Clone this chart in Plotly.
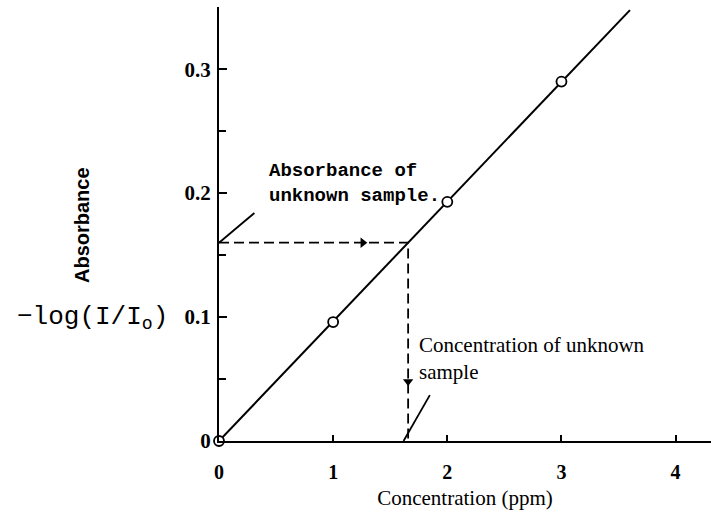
import numpy as np
import plotly.graph_objects as go

# ---- data ----
conc = [0, 1, 2, 3]                      # ppm
absorb = [0.0, 0.096, 0.193, 0.290]      # -log(I/I0)
line_end_conc = 3.6                      # calibration line drawn up to here
unknown_abs = 0.160                      # absorbance of unknown sample
x_ticks = [0, 1, 2, 3, 4]
y_ticks = [0, 0.1, 0.2, 0.3]
y_tick_text = ["0", "0.1", "0.2", "0.3"]

# calibration line through origin (least squares)
c = np.array(conc, float)
a = np.array(absorb, float)
slope = float((c * a).sum() / (c * c).sum())
unknown_conc = unknown_abs / slope
line_x = [0, line_end_conc]
line_y = [0, slope * line_end_conc]

fig = go.Figure()

# calibration line
fig.add_trace(go.Scatter(x=line_x, y=line_y, mode="lines",
                         line=dict(color="black", width=2), cliponaxis=False,
                         hoverinfo="skip", showlegend=False))
# dashed guides
fig.add_trace(go.Scatter(x=[0, unknown_conc, unknown_conc], y=[unknown_abs, unknown_abs, 0],
                         mode="lines", line=dict(color="black", width=1.8, dash="10px,5px"),
                         hoverinfo="skip", showlegend=False))
# arrowheads on the guides
fig.add_trace(go.Scatter(x=[1.26], y=[unknown_abs], mode="markers",
                         marker=dict(symbol="triangle-right", size=9, color="black"),
                         hoverinfo="skip", showlegend=False))
fig.add_trace(go.Scatter(x=[unknown_conc], y=[0.048], mode="markers",
                         marker=dict(symbol="triangle-down", size=9, color="black"),
                         hoverinfo="skip", showlegend=False))
# leader lines
fig.add_trace(go.Scatter(x=[0, 0.31], y=[unknown_abs, unknown_abs + 0.024], mode="lines",
                         line=dict(color="black", width=1.8), cliponaxis=False,
                         hoverinfo="skip", showlegend=False))
fig.add_trace(go.Scatter(x=[unknown_conc - 0.04, unknown_conc + 0.19], y=[0, 0.037], mode="lines",
                         line=dict(color="black", width=1.8), cliponaxis=False,
                         hoverinfo="skip", showlegend=False))
# data points
fig.add_trace(go.Scatter(x=conc, y=absorb, mode="markers", cliponaxis=False,
                         marker=dict(symbol="circle", size=10, color="white",
                                     line=dict(color="black", width=1.8)),
                         showlegend=False))

serif = "Liberation Serif"
mono = "Liberation Mono"

fig.update_layout(
    width=711, height=513,
    margin=dict(l=219, r=0, t=7, b=72),
    paper_bgcolor="white", plot_bgcolor="white",
    xaxis=dict(range=[0, 4.31], tickvals=x_ticks, ticks="inside", ticklen=6,
               tickwidth=1.5, tickcolor="black", showline=True, linecolor="black",
               linewidth=2, showgrid=False, zeroline=False, ticklabelstandoff=12,
               tickfont=dict(family=serif, size=20, color="black", weight="bold"),
               title=dict(text="Concentration (ppm)", standoff=8,
                          font=dict(family=serif, size=21, color="black"))),
    yaxis=dict(range=[0, 0.3502], tickvals=y_ticks, ticktext=y_tick_text,
               ticks="inside", ticklen=8, tickwidth=1.5, tickcolor="black",
               showline=True, linecolor="black", linewidth=2, showgrid=False,
               zeroline=False, ticklabelstandoff=2,
               minor=dict(dtick=0.05, ticks="inside", ticklen=7, tickwidth=1.5,
                          tickcolor="black"),
               tickfont=dict(family=serif, size=21, color="black", weight="bold")),
    annotations=[
        dict(text="Absorbance", textangle=-90, xref="paper", yref="paper",
             x=(82 - 219) / 492, y=(513 - 72 - 225) / 434, xanchor="center", yanchor="middle",
             showarrow=False, font=dict(family="Liberation Sans", size=20, color="black", weight="bold")),
        dict(text="−log(I/I<sub>o</sub>)", xref="paper", yref="paper",
             x=(15 - 219) / 492, y=(513 - 72 - 318) / 434, xanchor="left", yanchor="middle",
             showarrow=False, font=dict(family=mono, size=26, color="black")),
        dict(text="Absorbance of<br>unknown sample.", xref="paper", yref="paper",
             x=(267 - 219) / 492, y=(513 - 72 - 183) / 434, xanchor="left", yanchor="middle",
             align="left", showarrow=False,
             font=dict(family=mono, size=19, color="black", weight="bold")),
        dict(text="Concentration of unknown<br>sample", xref="paper", yref="paper",
             x=(417 - 219) / 492, y=(513 - 72 - 358) / 434, xanchor="left", yanchor="middle",
             align="left", showarrow=False,
             font=dict(family=serif, size=21, color="black")),
    ],
)

fig.write_html("out.html")
